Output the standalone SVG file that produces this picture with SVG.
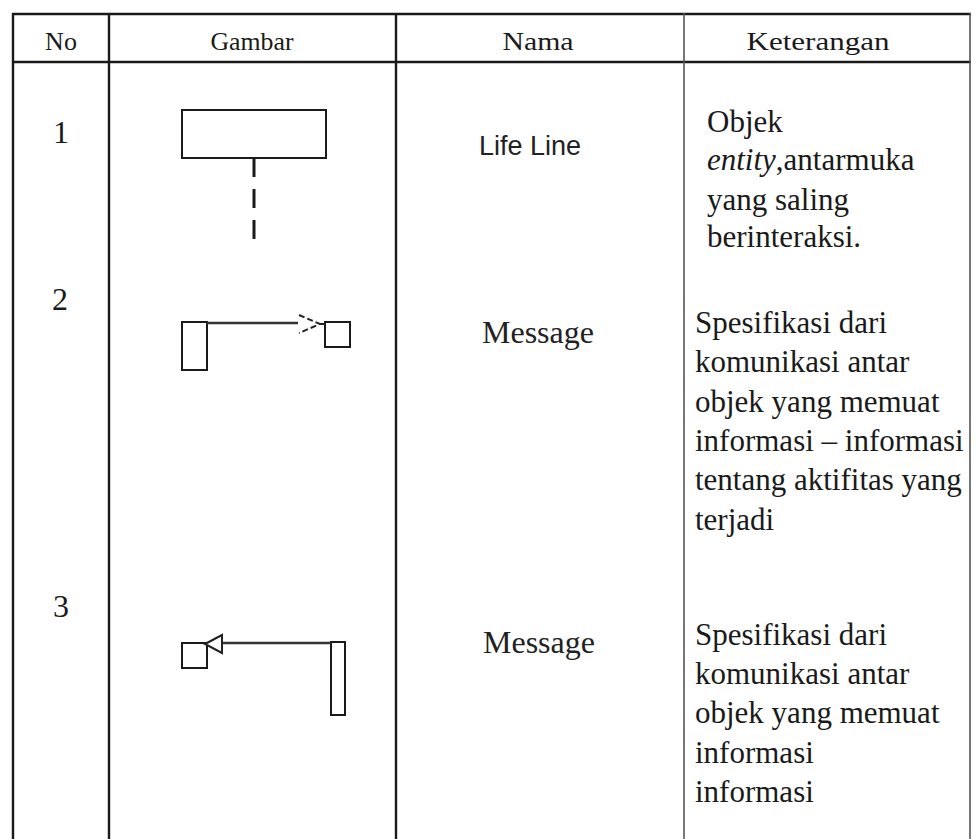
<svg xmlns="http://www.w3.org/2000/svg" width="977" height="839" viewBox="0 0 977 839">
  <style>
    .grid { stroke: #1a1a1a; stroke-width: 2.4; fill: none; }
    .grid-light { stroke: #555; stroke-width: 1.6; fill: none; }
    .shape { stroke: #1a1a1a; stroke-width: 2; fill: #fff; }
    .msg { stroke: #333; stroke-width: 2.4; fill: none; }
    .head { font-family: "Liberation Serif", "Times New Roman", serif; font-size: 26px; fill: #1a1a1a; text-anchor: middle; }
    .num { font-family: "Liberation Serif", "Times New Roman", serif; font-size: 32px; fill: #1a1a1a; text-anchor: middle; }
    .name { font-family: "Liberation Serif", "Times New Roman", serif; font-size: 32px; fill: #222; }
    .name-sans { font-family: "Liberation Sans", Arial, sans-serif; font-size: 27px; fill: #222; }
    .desc { font-family: "Liberation Serif", "Times New Roman", serif; font-size: 31px; fill: #1a1a1a; }
  </style>

  <rect x="0" y="0" width="977" height="839" fill="#fff"/>

  <!-- table grid -->
  <g id="table-grid">
    <line class="grid" x1="12" y1="14" x2="971" y2="14"/>
    <line class="grid" x1="12" y1="62" x2="971" y2="62"/>
    <line class="grid" x1="13" y1="13" x2="13" y2="839"/>
    <line class="grid" x1="109" y1="13" x2="109" y2="839"/>
    <line class="grid" x1="396" y1="13" x2="396" y2="839"/>
    <line class="grid-light" x1="684" y1="13" x2="684" y2="839"/>
    <line class="grid-light" x1="970" y1="13" x2="970" y2="839"/>
  </g>

  <!-- header row -->
  <g id="header">
    <text class="head" x="61" y="50">No</text>
    <text class="head" x="252" y="50" textLength="83" lengthAdjust="spacingAndGlyphs">Gambar</text>
    <text class="head" x="538" y="50" textLength="71" lengthAdjust="spacingAndGlyphs">Nama</text>
    <text class="head" x="818" y="50" textLength="143" lengthAdjust="spacingAndGlyphs">Keterangan</text>
  </g>

  <!-- row 1: life line -->
  <g id="row-1">
    <text class="num" x="61" y="143">1</text>
    <g id="lifeline-object">
      <rect class="shape" x="182" y="110" width="144" height="48"/>
    </g>
    <text class="name-sans" x="479" y="155">Life Line</text>
    <text class="desc" x="707" y="132">Objek</text>
    <text class="desc" x="707" y="170"><tspan font-style="italic">entity</tspan>,antarmuka</text>
    <text class="desc" x="707" y="210">yang saling</text>
    <text class="desc" x="707" y="247">berinteraksi.</text>
  </g>

  <!-- row 2: outgoing message -->
  <g id="row-2">
    <text class="num" x="60" y="310">2</text>
    <g id="sender-activation">
      <rect class="shape" x="182" y="322" width="25" height="48"/>
    </g>
    <g id="receiver-object">
      <rect class="shape" x="325" y="322" width="25" height="25"/>
    </g>
    <text class="name" x="482" y="343">Message</text>
    <text class="desc" x="695" y="333">Spesifikasi dari</text>
    <text class="desc" x="695" y="372">komunikasi antar</text>
    <text class="desc" x="695" y="412">objek yang memuat</text>
    <text class="desc" x="695" y="451">informasi – informasi</text>
    <text class="desc" x="695" y="490">tentang aktifitas yang</text>
    <text class="desc" x="695" y="530">terjadi</text>
  </g>

  <!-- row 3: returning message -->
  <g id="row-3">
    <text class="num" x="61" y="617">3</text>
    <g id="target-object">
      <rect class="shape" x="182" y="643" width="25" height="25"/>
    </g>
    <g id="source-activation">
      <rect class="shape" x="331" y="642" width="14" height="73"/>
    </g>
    <text class="name" x="483" y="653">Message</text>
    <text class="desc" x="695" y="645">Spesifikasi dari</text>
    <text class="desc" x="695" y="684">komunikasi antar</text>
    <text class="desc" x="695" y="723">objek yang memuat</text>
    <text class="desc" x="695" y="763">informasi</text>
    <text class="desc" x="695" y="802">informasi</text>
  </g>

  <!-- connectors -->
  <g id="connectors">
    <!-- life line tail -->
    <line x1="254" y1="158" x2="254" y2="240" stroke="#1a1a1a" stroke-width="3" stroke-dasharray="19 12"/>
    <!-- message 2 with open arrowhead -->
    <line class="msg" x1="207" y1="323" x2="298" y2="323"/>
    <polyline points="299,315 320,324 299,333" fill="none" stroke="#222" stroke-width="2" stroke-dasharray="6 3"/>
    <line x1="320" y1="324" x2="325" y2="324" stroke="#222" stroke-width="2"/>
    <!-- message 3 with hollow triangle head -->
    <line class="msg" x1="222" y1="643" x2="331" y2="643"/>
    <polygon points="205,644 222,635 222,653" fill="#fff" stroke="#222" stroke-width="2"/>
  </g>
</svg>
